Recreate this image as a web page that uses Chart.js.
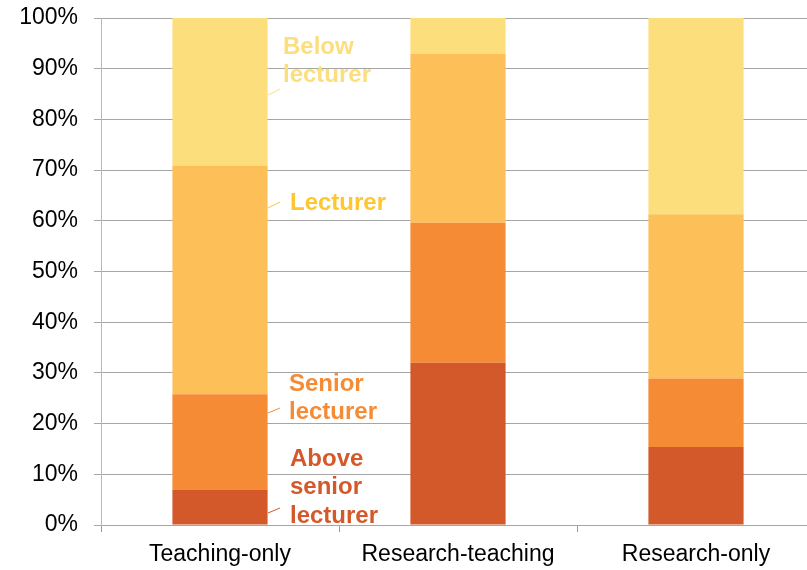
<!DOCTYPE html>
<html>
<head>
<meta charset="utf-8">
<script src="https://cdn.jsdelivr.net/npm/chart.js@4/dist/chart.umd.min.js"></script>
<style>
  html, body { margin: 0; padding: 0; background: #fff; overflow: hidden; }
  #wrap { width: 815px; height: 570px; }
</style>
</head>
<body>
<div id="wrap"><canvas id="chart"></canvas></div>
<script>
const categories = ['Teaching-only', 'Research-teaching', 'Research-only'];
const aboveSenior = [7.0, 32.0, 15.4];
const seniorLecturer = [18.8, 27.6, 13.5];
const lecturer = [45.1, 33.3, 32.4];
const belowLecturer = [29.1, 7.1, 38.7];

const seriesNames = ['Above senior lecturer', 'Senior lecturer', 'Lecturer', 'Below lecturer'];
const barColors = ['#D4592A', '#F58B35', '#FDC058', '#FDDE7C'];
const textColors = ['#D4592A', '#F58B35', '#FEC630', '#FDDE7C'];

// labels on the right of the first bar, with a short leader line
const sideLabels = [
    { lines: ['Above', 'senior', 'lecturer'], x: 290, y: 459, from: [268, 513], to: [280, 508] },
    { lines: ['Senior', 'lecturer'], x: 289, y: 384, from: [268, 413], to: [280, 408] },
    { lines: ['Lecturer'], x: 290, y: 203, from: [268, 208], to: [280, 202] },
    { lines: ['Below', 'lecturer'], x: 283, y: 47, from: [268, 95], to: [280, 89] }
];

const sideLabelPlugin = {
    id: 'sideLabels',
    afterDatasetsDraw(chart) {
        const ctx = chart.ctx;
        ctx.save();
        ctx.font = 'bold 24px "Liberation Sans", Arial, sans-serif';
        ctx.textBaseline = 'middle';
        ctx.textAlign = 'left';
        sideLabels.forEach((lab, i) => {
            ctx.strokeStyle = textColors[i];
            ctx.lineWidth = 1;
            ctx.beginPath();
            ctx.moveTo(lab.from[0], lab.from[1]);
            ctx.lineTo(lab.to[0], lab.to[1]);
            ctx.stroke();
            ctx.fillStyle = textColors[i];
            lab.lines.forEach((t, j) => ctx.fillText(t, lab.x, lab.y + j * 28.7));
        });
        ctx.restore();
    }
};

const allSeries = [aboveSenior, seniorLecturer, lecturer, belowLecturer];

new Chart(document.getElementById('chart'), {
    type: 'bar',
    data: {
        labels: categories,
        datasets: allSeries.map((vals, i) => ({
            label: seriesNames[i],
            data: vals,
            backgroundColor: barColors[i],
            borderWidth: 0,
            categoryPercentage: 1,
            barPercentage: 0.4
        }))
    },
    options: {
        responsive: true,
        maintainAspectRatio: false,
        animation: false,
        layout: { padding: { top: 18, left: 0, right: 0, bottom: 0 } },
        plugins: {
            legend: { display: false },
            tooltip: { enabled: false }
        },
        scales: {
            x: {
                stacked: true,
                afterFit: s => { s.height = 45; s.paddingLeft = 0; s.paddingRight = 0; },
                grid: {
                    offset: true,
                    drawOnChartArea: false,
                    drawTicks: true,
                    tickLength: 7,
                    color: '#9a9a9a'
                },
                border: { color: '#a6a6a6' },
                ticks: {
                    color: '#000',
                    padding: 9,
                    font: { family: '"Liberation Sans", Arial, sans-serif', size: 23 }
                }
            },
            y: {
                stacked: true,
                min: 0,
                max: 100,
                afterFit: s => { s.width = 101; s.paddingTop = 0; s.paddingBottom = 0; },
                grid: {
                    color: '#a6a6a6',
                    tickLength: 7
                },
                border: { color: '#b8b8b8' },
                ticks: {
                    stepSize: 10,
                    color: '#000',
                    padding: 16,
                    font: { family: '"Liberation Sans", Arial, sans-serif', size: 23 },
                    callback: v => v + '%'
                }
            }
        }
    },
    plugins: [sideLabelPlugin]
});
</script>
</body>
</html>
